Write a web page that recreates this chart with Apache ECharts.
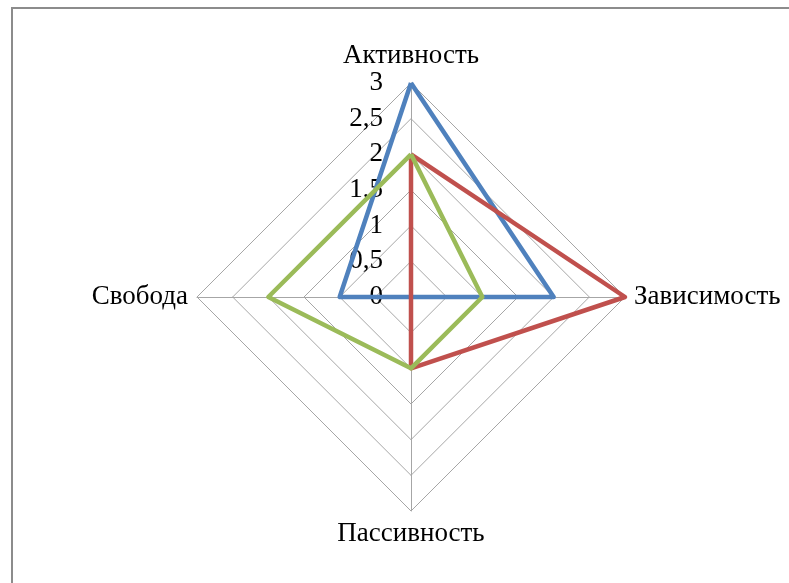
<!DOCTYPE html>
<html>
<head>
<meta charset="utf-8">
<script src="https://cdn.jsdelivr.net/npm/echarts@6/dist/echarts.min.js"></script>
<style>
  html, body { margin: 0; padding: 0; background: #fff; }
  #frame { position: absolute; left: 11px; top: 7px; width: 800px; height: 600px;
           border-left: 2px solid #8c8c8c; border-top: 2px solid #8c8c8c; }
  #chart { position: absolute; left: 0; top: 0; width: 789px; height: 583px; }
</style>
</head>
<body>
<div id="frame"></div>
<div id="chart"></div>
<script>
	// оси (радар идёт против часовой стрелки: верх, лево, низ, право)
	var axisNames = ['Активность', 'Свобода', 'Пассивность', 'Зависимость'];
	var axisMax = 3;

	// ряды (в порядке рисования)
	var blueValues = [3, 1, 0, 2];
	var redValues = [2, 0, 1, 3];
	var greenValues = [2, 2, 1, 1];

	var seriesColors = ['#4f81bd', '#c0504d', '#9bbb59'];

	var chart = echarts.init(document.getElementById('chart'), null, { renderer: 'canvas' });

	// подписи шкалы только на первой оси
	var indicators = axisNames.map(function(name, i) {
		var ind = { name: name, max: axisMax, min: 0 };
		if (i > 0) {
			ind.axisLabel = { show: false };
		}
		return ind;
	});

	var option = {
		animation: false,
		radar: {
			center: [411, 297],
			radius: 214,
			startAngle: 90,
			shape: 'polygon',
			splitNumber: 6,
			indicator: indicators,
			nameGap: 9,
			axisName: {
				color: '#000',
				fontFamily: 'Liberation Serif',
				fontSize: 27
			},
			axisLine: { lineStyle: { color: '#a6a6a6', width: 1 } },
			splitLine: { lineStyle: { color: '#a6a6a6', width: 1 } },
			splitArea: { show: false },
			axisTick: { show: false },
			axisLabel: {
				show: true,
				color: '#000',
				fontFamily: 'Liberation Serif',
				fontSize: 27,
				margin: 28,
				formatter: function(v) {
					return String(v).replace('.', ',');
				}
			}
		},
		series: [{
			type: 'radar',
			symbol: 'none',
			data: [
				{ value: blueValues, lineStyle: { color: seriesColors[0], width: 4.5 } },
				{ value: redValues, lineStyle: { color: seriesColors[1], width: 4.5 } },
				{ value: greenValues, lineStyle: { color: seriesColors[2], width: 4.5 } }
			]
		}]
	};

	chart.setOption(option);
</script>
</body>
</html>
